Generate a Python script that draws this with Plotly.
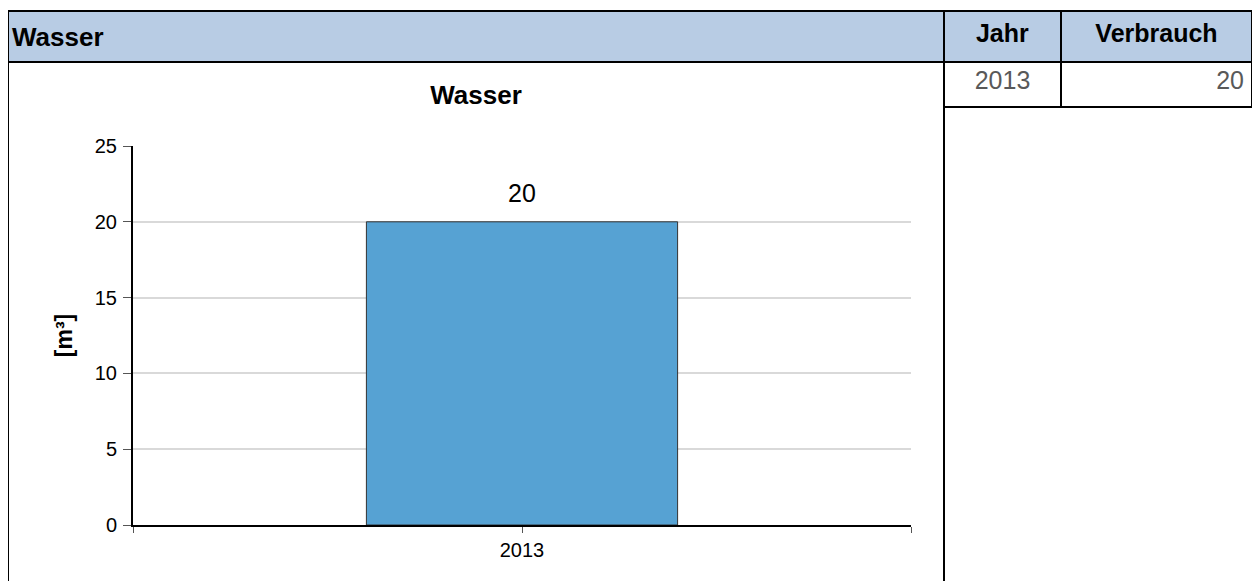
import plotly.graph_objects as go

# Daten
jahre = [2013]
verbrauch = [20]
titel = "Wasser"
einheit = "[m³]"
tabelle_kopf = ["Jahr", "Verbrauch"]

# Die Seite hat 8px Rand, daher etwas kleiner zeichnen
OFF = 8
W, H = 1260 - OFF, 581 - OFF
# Plotbereich in Seiten-Pixeln
L, R, T, B = 133, 911, 146, 525


def fx(x):
    return (x - OFF) / W


def fy(y):
    return 1 - (y - OFF) / H


FONT = "Liberation Sans, Arial"

fig = go.Figure()

fig.add_trace(go.Bar(
    x=jahre,
    y=verbrauch,
    width=0.4,
    marker=dict(color="#56A2D3", line=dict(color="#333333", width=1)),
    showlegend=False,
    hoverinfo="skip",
))

for j, v in zip(jahre, verbrauch):
    fig.add_annotation(x=j, y=v, text=str(v), showarrow=False, yanchor="middle",
                       yshift=29, font=dict(size=25, color="black"))

# Tabelle rechts
fig.add_trace(go.Table(
    domain=dict(x=[fx(944), fx(1253)], y=[0, fy(11)]),
    columnwidth=[117, 191],
    header=dict(
        values=["<b>%s</b>" % k for k in tabelle_kopf],
        fill_color="#B8CCE4",
        line=dict(color="black", width=2),
        align="center",
        height=51,
        font=dict(size=25, color="black", family=FONT),
    ),
    cells=dict(
        values=[[str(j) for j in jahre], [str(v) for v in verbrauch]],
        fill_color="white",
        line=dict(color="black", width=1.5),
        align=["center", "right"],
        height=45,
        font=dict(size=25, color="#595959", family=FONT),
    ),
))

# Kopfzeile links und Rahmen
shapes = [
    dict(type="rect", xref="paper", yref="paper", x0=fx(8), x1=fx(944), y0=fy(62), y1=fy(11),
         fillcolor="#B8CCE4", line=dict(color="black", width=2), layer="below"),
    dict(type="line", xref="paper", yref="paper", x0=fx(8), x1=fx(8), y0=fy(62), y1=fy(H + OFF + 2),
         line=dict(color="black", width=2)),
    dict(type="line", xref="paper", yref="paper", x0=fx(944), x1=fx(944), y0=fy(62), y1=fy(H + OFF + 2),
         line=dict(color="black", width=2)),
]

fig.add_annotation(xref="paper", yref="paper", x=fx(10), y=fy(37), xanchor="left", yanchor="middle",
                   text="<b>%s</b>" % titel, showarrow=False, font=dict(size=26, color="black"))

fig.update_layout(
    width=W, height=H,
    margin=dict(l=0, r=0, t=0, b=0),
    paper_bgcolor="white",
    plot_bgcolor="white",
    font=dict(family=FONT, color="black"),
    title=dict(text="<b>%s</b>" % titel, x=fx(476), xanchor="center", y=fy(95), yanchor="middle",
               font=dict(size=26, color="black")),
    shapes=shapes,
    xaxis=dict(
        domain=[fx(L), fx(R)],
        range=[jahre[0] - 0.5, jahre[-1] + 0.5],
        tickvals=[jahre[0] - 0.5] + jahre + [jahre[-1] + 0.5],
        ticktext=[""] + [str(j) for j in jahre] + [""],
        ticks="outside", ticklen=6, tickcolor="#555555", tickwidth=1,
        showline=True, linecolor="black", linewidth=2,
        showgrid=False, zeroline=False, automargin=False,
        tickfont=dict(size=20, color="black"),
    ),
    yaxis=dict(
        domain=[fy(B), fy(T)],
        range=[0, 25], dtick=5,
        ticks="outside", ticklen=8, tickcolor="#555555", tickwidth=1,
        showline=True, linecolor="black", linewidth=2,
        gridcolor="#D9D9D9", gridwidth=2, zeroline=False, automargin=False,
        tickfont=dict(size=20, color="black"),
        ticklabelstandoff=2,
        title=dict(text="<b>%s</b>" % einheit, font=dict(size=23, color="black"), standoff=16),
    ),
)

fig.write_html("out.html")
